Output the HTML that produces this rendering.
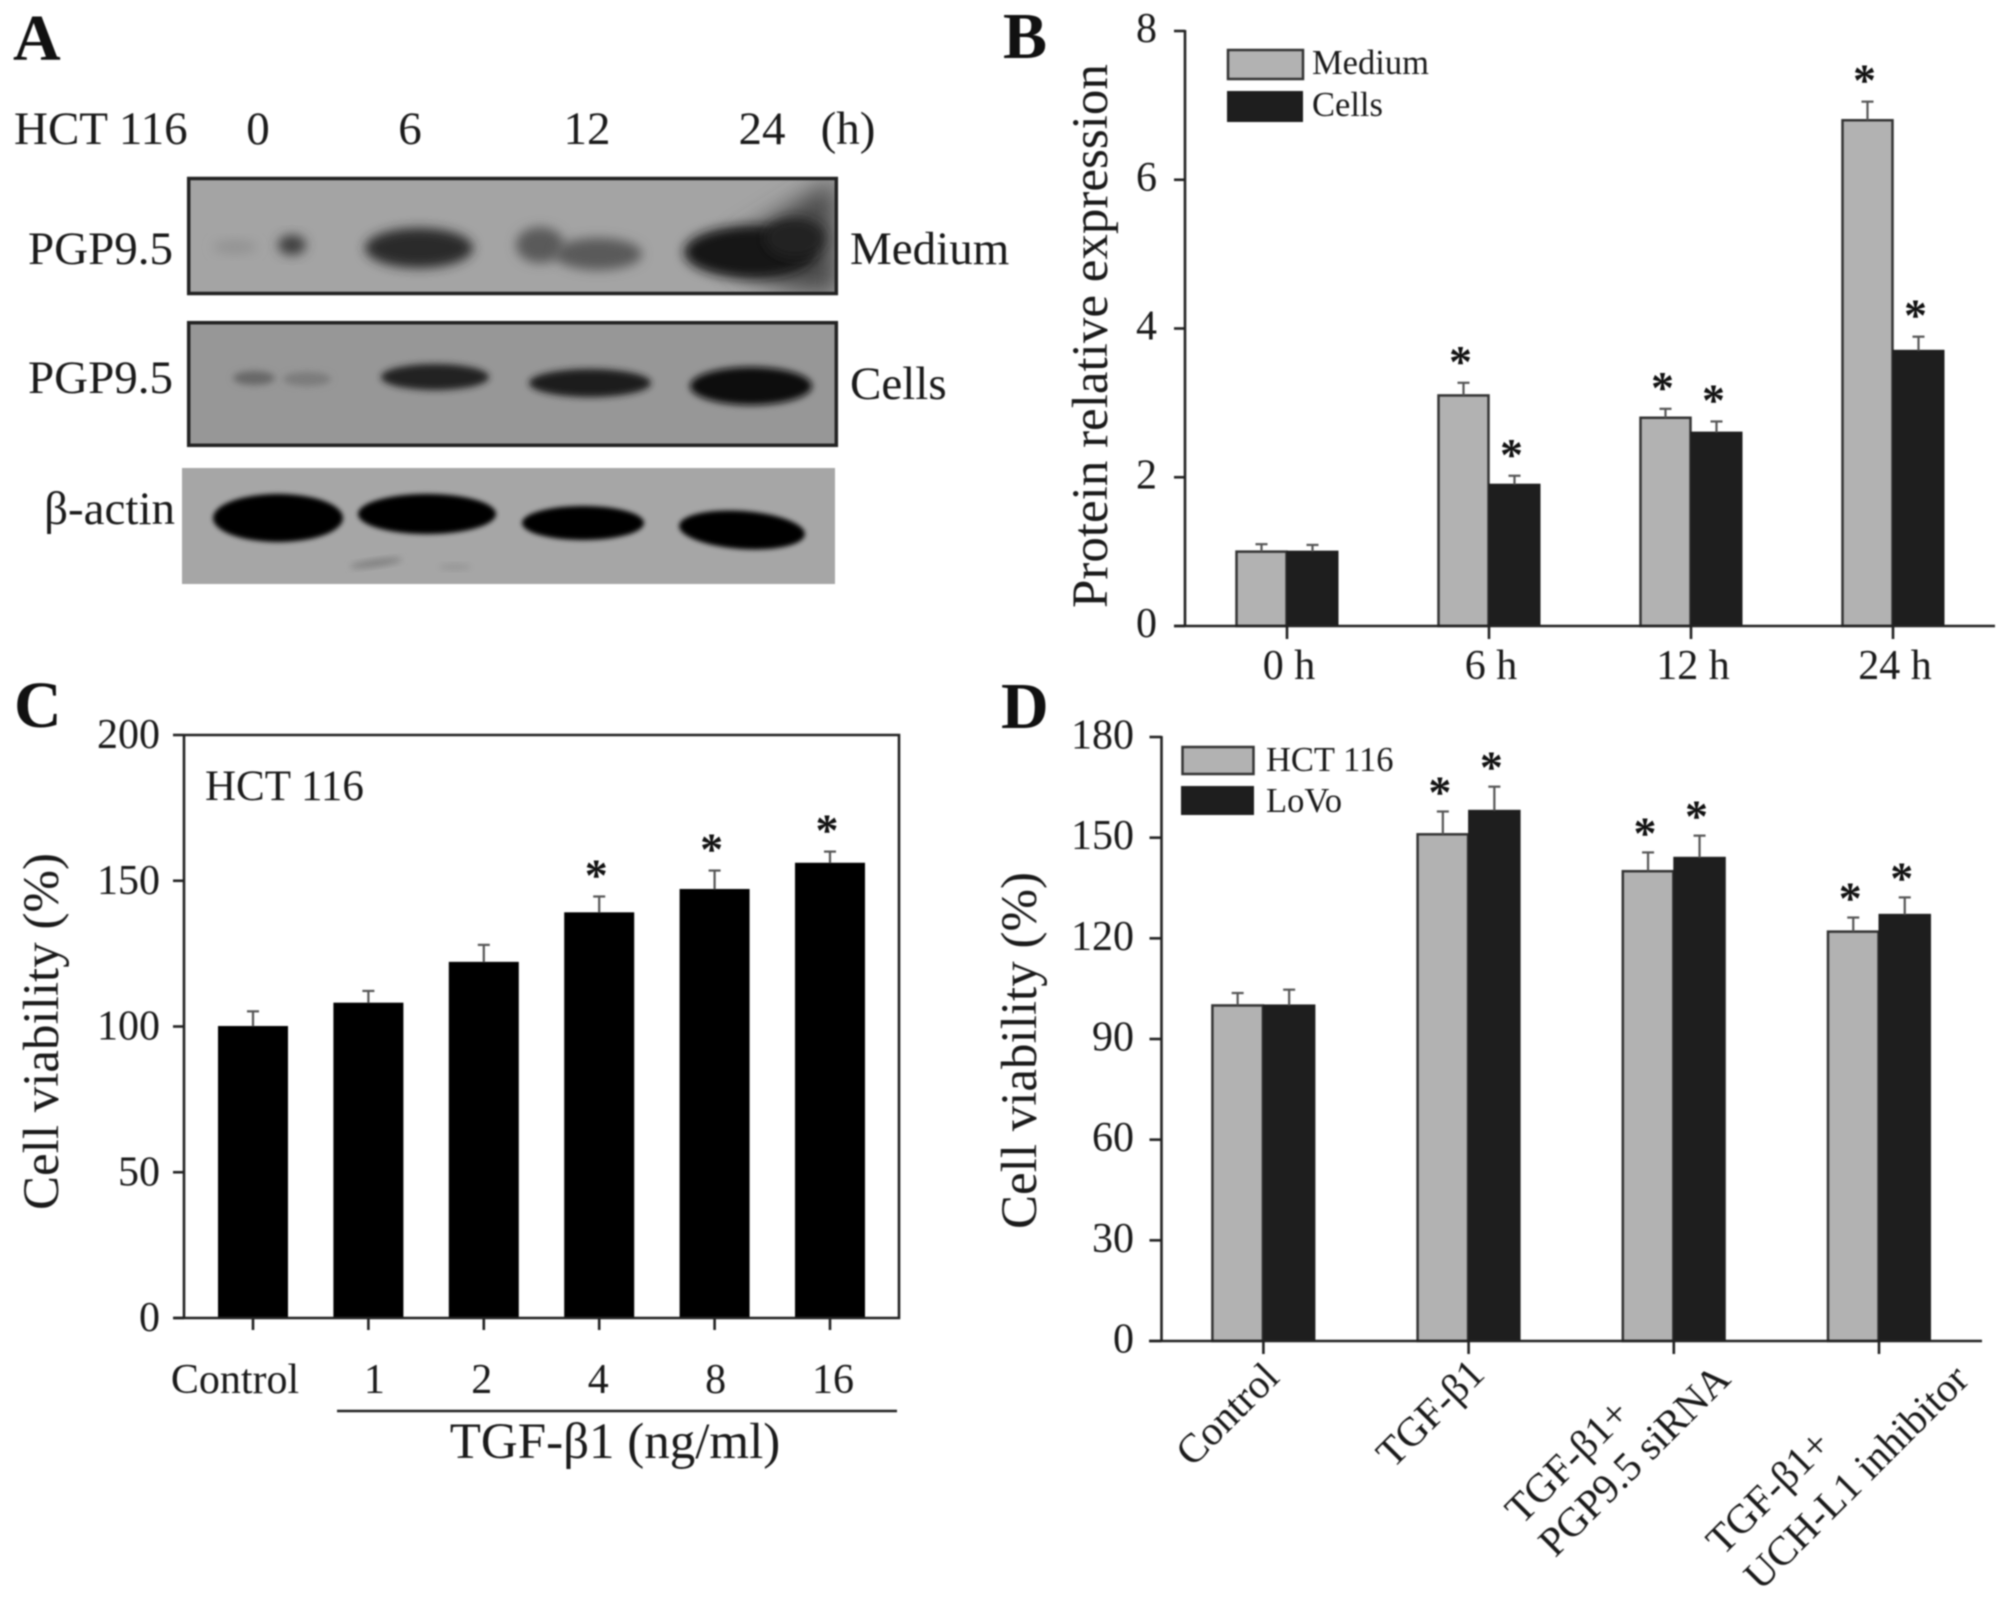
<!DOCTYPE html>
<html lang="en">
<head>
<meta charset="utf-8">
<title>PGP9.5 expression and cell viability figure</title>
<style>
html,body{margin:0;padding:0;background:#fff;}
body{width:2008px;height:1599px;overflow:hidden;}
svg{display:block;filter:blur(0.7px);}
text{font-family:"Liberation Serif","Noto Serif CJK SC",serif;fill:#1a1a1a;}
.big{font-size:47px;}
.tick{font-size:42px;}
.title{font-size:51px;}
.letter{font-size:66px;font-weight:bold;fill:#111;}
.leg{font-size:34.5px;}
.rot{font-size:41px;text-anchor:middle;}
</style>
</head>
<body>
<svg id="fig" xmlns="http://www.w3.org/2000/svg" width="2008" height="1599" viewBox="0 0 2008 1599">
  <defs>
    <filter id="b2" x="-50%" y="-50%" width="200%" height="200%"><feGaussianBlur stdDeviation="2.500"/></filter>
    <filter id="b3" x="-50%" y="-50%" width="200%" height="200%"><feGaussianBlur stdDeviation="3.500"/></filter>
    <filter id="b5" x="-50%" y="-50%" width="200%" height="200%"><feGaussianBlur stdDeviation="5.500"/></filter>
    <filter id="b14" x="-50%" y="-50%" width="200%" height="200%"><feGaussianBlur stdDeviation="12"/></filter>
    <clipPath id="clip1"><rect x="187" y="177" width="651" height="118"/></clipPath>
    <clipPath id="clip2"><rect x="187" y="321" width="651" height="126"/></clipPath>
  </defs>

  <!-- Panel A -->
  <g>
    <text class="letter" x="13" y="60">A</text>
    <text class="big" x="14" y="144">HCT 116</text>
    <text class="big" x="258" y="144" text-anchor="middle">0</text>
    <text class="big" x="410" y="144" text-anchor="middle">6</text>
    <text class="big" x="587" y="144" text-anchor="middle">12</text>
    <text class="big" x="762" y="144" text-anchor="middle">24</text>
    <text class="big" x="848" y="144" text-anchor="middle">(h)</text>
    <text class="big" x="173" y="264" text-anchor="end">PGP9.5</text>
    <text class="big" x="173" y="393" text-anchor="end">PGP9.5</text>
    <text class="big" x="175" y="524" text-anchor="end">β-actin</text>
    <text class="big" x="850" y="264">Medium</text>
    <text class="big" x="850" y="399">Cells</text>

    <g>
      <rect x="187" y="177" width="651" height="118" fill="#a4a4a4"/>
      <g clip-path="url(#clip1)">
        <polygon points="735,240 775,215 815,190 835,178 838,295 790,290 735,270" fill="#4a4a4a" filter="url(#b14)"/>
        <ellipse cx="235" cy="247" rx="22" ry="7" fill="#939393" filter="url(#b5)"/>
        <ellipse cx="292" cy="245" rx="14" ry="10" fill="#3e3e3e" filter="url(#b5)"/>
        <ellipse cx="419" cy="248" rx="54" ry="20" fill="#2a2a2a" filter="url(#b5)"/>
        <ellipse cx="540" cy="245" rx="24" ry="18" fill="#5a5a5a" filter="url(#b5)"/>
        <ellipse cx="598" cy="254" rx="44" ry="16" fill="#5a5a5a" filter="url(#b5)"/>
        <ellipse cx="750" cy="252" rx="66" ry="26" fill="#161616" filter="url(#b5)"/>
        <ellipse cx="795" cy="238" rx="30" ry="20" fill="#242424" filter="url(#b5)"/>
      </g>
      <rect x="188.700" y="178.500" width="647.600" height="115" fill="none" stroke="#222" stroke-width="3.500"/>
    </g>

    <g>
      <rect x="187" y="321" width="651" height="126" fill="#979797"/>
      <g clip-path="url(#clip2)">
        <ellipse cx="254" cy="378" rx="21" ry="7" fill="#676767" filter="url(#b3)"/>
        <ellipse cx="307" cy="379" rx="24" ry="7" fill="#7b7b7b" filter="url(#b3)"/>
        <ellipse cx="435" cy="377" rx="54" ry="13" fill="#222" filter="url(#b3)"/>
        <ellipse cx="590" cy="383" rx="61" ry="14" fill="#1c1c1c" filter="url(#b3)"/>
        <ellipse cx="751" cy="386" rx="61" ry="19" fill="#0e0e0e" filter="url(#b3)"/>
      </g>
      <rect x="188.700" y="322.700" width="647.600" height="122.600" fill="none" stroke="#222" stroke-width="3.500"/>
    </g>

    <g>
      <rect x="182" y="468" width="653" height="116" fill="#a6a6a6"/>
      <ellipse cx="278" cy="518" rx="65" ry="24" fill="#000" filter="url(#b2)"/>
      <ellipse cx="427" cy="514" rx="69" ry="20" fill="#000" filter="url(#b2)"/>
      <ellipse cx="583" cy="523" rx="61" ry="17" fill="#000" filter="url(#b2)"/>
      <ellipse cx="742" cy="530" rx="63" ry="19" fill="#000" filter="url(#b2)" transform="rotate(4 742 530)"/>
      <ellipse cx="376" cy="563" rx="26" ry="3.500" fill="#7e7e7e" filter="url(#b3)" transform="rotate(-8 376 563)"/>
      <ellipse cx="455" cy="567" rx="16" ry="3" fill="#949494" filter="url(#b3)"/>
    </g>
  </g>

  <!-- Panel B -->
  <g id="panelB">
    <text class="letter" x="1003" y="58">B</text>
    <text class="title" transform="translate(1107,608) rotate(-90)">Protein relative expression</text>
    <g>
      <rect x="1228" y="50" width="75" height="29" fill="#b2b2b2" stroke="#333" stroke-width="2.500"/>
      <rect x="1227" y="91" width="76" height="31" fill="#1e1e1e"/>
      <text class="leg" x="1312" y="74">Medium</text>
      <text class="leg" x="1312" y="116">Cells</text>
    </g>
  </g>

  <!-- Panel C -->
  <g id="panelC">
    <text class="letter" x="14" y="727">C</text>
    <text class="title" transform="translate(58,1210) rotate(-90)">Cell viability (%)</text>
    <text class="tick" x="205" y="800" style="font-size:43px">HCT 116</text>
    <line x1="337" y1="1411" x2="897" y2="1411" stroke="#222" stroke-width="2.500"/>
    <text x="615" y="1458" text-anchor="middle" font-size="51">TGF-β1 (ng/ml)</text>
  </g>

  <!-- Panel D -->
  <g id="panelD">
    <text class="letter" x="1001" y="728">D</text>
    <text class="title" transform="translate(1036,1229) rotate(-90)">Cell viability (%)</text>
    <g>
      <rect x="1182.500" y="747" width="71" height="27" fill="#b2b2b2" stroke="#333" stroke-width="2.500"/>
      <rect x="1181" y="786" width="73" height="29" fill="#1e1e1e"/>
      <text class="leg" x="1266" y="771">HCT 116</text>
      <text class="leg" x="1266" y="812">LoVo</text>
    </g>
    <text class="rot" dy=".3em" transform="translate(1228,1415) rotate(-45)">Control</text>
    <text class="rot" dy=".3em" transform="translate(1431,1414) rotate(-45)">TGF-β1</text>
    <text class="rot" dy=".3em" transform="translate(1568,1462) rotate(-45)">TGF-β1+</text>
    <text class="rot" dy=".3em" transform="translate(1635,1461) rotate(-45)">PGP9.5 siRNA</text>
    <text class="rot" dy=".3em" transform="translate(1769,1493) rotate(-45)">TGF-β1+</text>
    <text class="rot" dy=".3em" transform="translate(1857,1478) rotate(-45)">UCH-L1 inhibitor</text>
  </g>
</svg>

<script>
// Panel B data
const bCategories = ['0 h', '6 h', '12 h', '24 h'];
const bMedium = [1.0, 3.1, 2.8, 6.8];
const bCells = [1.0, 1.9, 2.6, 3.7];
const bMediumErr = [0.1, 0.17, 0.12, 0.25];
const bCellsErr = [0.09, 0.12, 0.15, 0.19];
const bMediumStar = [false, true, true, true];
const bCellsStar = [false, true, true, true];
const bTicks = [0, 2, 4, 6, 8];

// Panel C data
const cCategories = ['Control', '1', '2', '4', '8', '16'];
const cViability = [100, 108, 122, 139, 147, 156];
const cViabilityErr = [5.2, 4.2, 6, 5.6, 6.5, 4];
const cStar = [false, false, false, true, true, true];
const cTicks = [0, 50, 100, 150, 200];

// Panel D data
const dCategories = ['Control', 'TGF-β1', 'TGF-β1+ PGP9.5 siRNA', 'TGF-β1+ UCH-L1 inhibitor'];
const dHct = [100, 151, 140, 122];
const dLovo = [100, 158, 144, 127];
const dHctErr = [3.7, 6.8, 5.6, 4.2];
const dLovoErr = [4.7, 7.2, 6.6, 5.2];
const dHctStar = [false, true, true, true];
const dLovoStar = [false, true, true, true];
const dTicks = [0, 30, 60, 90, 120, 150, 180];

const NS = 'http://www.w3.org/2000/svg';
function mk(parent, tag, attrs, txt) {
  const el = document.createElementNS(NS, tag);
  for (const k in attrs) el.setAttribute(k, attrs[k]);
  if (txt !== undefined) el.textContent = txt;
  parent.appendChild(el);
  return el;
}
function linearY(v, maxV, yZero, yTop) { return yZero - (v / maxV) * (yZero - yTop); }

function drawBar(g, x, w, v, err, star, y, o, label) {
  const top = y(v), errTop = y(v + err), cx = x + w / 2;
  const rect = mk(g, 'rect', {x: x + o.inset, y: top, width: w - 2 * o.inset, height: y(0) - top, fill: o.fill, stroke: o.stroke, 'stroke-width': o.sw});
  
  
  const stem = mk(g, 'line', {x1: cx, x2: cx, y1: top, y2: errTop, stroke: '#555', 'stroke-width': 2.2});
  
  
  const cap = mk(g, 'line', {x1: cx - 6, x2: cx + 6, y1: errTop, y2: errTop, stroke: '#555', 'stroke-width': 2.2});
  
  
  if (star) {
    const s = mk(g, 'text', {x: cx - 3, y: errTop - o.starGap, 'text-anchor': 'middle', 'font-size': 46, 'font-weight': 'bold', style: 'fill:#111'}, '*');
    
    
  }
}

function drawYAxis(g, ticks, y, o, label) {
  const axis = mk(g, 'line', {x1: o.x, x2: o.x, y1: y(ticks[ticks.length - 1]) - 1, y2: y(0) + 1, stroke: '#222', 'stroke-width': 2.6});
  
  
  ticks.forEach(function (t) {
    const tk = mk(g, 'line', {x1: o.x - o.tickLen, x2: o.x, y1: y(t), y2: y(t), stroke: '#222', 'stroke-width': 2.6});
    
    
    const tx = mk(g, 'text', {class: 'tick', x: o.labelX, y: y(t) + o.labelDy, 'text-anchor': 'end'}, String(t));
    
    
  });
}

function drawXTicks(g, n, cx, yBase, tickLen, label) {
  for (let i = 0; i < n; i++) {
    const tk = mk(g, 'line', {x1: cx(i), x2: cx(i), y1: yBase, y2: yBase + tickLen, stroke: '#222', 'stroke-width': 2.6});
    
    
  }
}

// ---- Panel B ----
(function () {
  const g = document.getElementById('panelB');
  const y = function (v) { return linearY(v, 8, 626, 31); };
  const cx = function (i) { return 1287 + i * 202; };
  const w = 51;
  bCategories.forEach(function (c, i) {
    drawBar(g, cx(i) - w, w, bMedium[i], bMediumErr[i], bMediumStar[i], y, {fill: '#b2b2b2', stroke: '#333', sw: 2.5, inset: 0.5, starGap: 6}, 'panel-b-medium');
    drawBar(g, cx(i), w, bCells[i], bCellsErr[i], bCellsStar[i], y, {fill: '#1e1e1e', stroke: '#1e1e1e', sw: 2, inset: 0.5, starGap: 6}, 'panel-b-cells');
    const lb = mk(g, 'text', {class: 'tick', x: cx(i) + 2, y: 679, 'text-anchor': 'middle'}, c);
    
    
  });
  drawYAxis(g, bTicks, y, {x: 1185, tickLen: 11, labelX: 1157, labelDy: 11}, 'panel-b');
  const xa = mk(g, 'line', {x1: 1174, x2: 1995, y1: y(0), y2: y(0), stroke: '#222', 'stroke-width': 2.6});
  
  
  drawXTicks(g, bCategories.length, cx, y(0), 13, 'panel-b');
})();

// ---- Panel C ----
(function () {
  const g = document.getElementById('panelC');
  const y = function (v) { return linearY(v, 200, 1318, 735); };
  const cx = function (i) { return 253 + i * 115.4; };
  const w = 70;
  const labelNudge = [-18, 6, -2, -1, 1, 3];
  cCategories.forEach(function (c, i) {
    drawBar(g, cx(i) - w / 2, w, cViability[i], cViabilityErr[i], cStar[i], y, {fill: '#000', stroke: '#000', sw: 1, inset: 0.5, starGap: 6}, 'panel-c');
    const lb = mk(g, 'text', {class: 'tick', x: cx(i) + labelNudge[i], y: 1393, 'text-anchor': 'middle'}, c);
    
    
  });
  drawYAxis(g, cTicks, y, {x: 184, tickLen: 11, labelX: 160, labelDy: 13}, 'panel-c');
  const frame = mk(g, 'path', {d: 'M184 ' + y(200) + 'H899V' + y(0) + 'H174', fill: 'none', stroke: '#222', 'stroke-width': 2.6});
  
  
  drawXTicks(g, cCategories.length, cx, y(0), 12, 'panel-c');
})();

// ---- Panel D ----
(function () {
  const g = document.getElementById('panelD');
  const y = function (v) { return linearY(v, 180, 1341, 737); };
  const cx = function (i) { return 1263.4 + i * 205.2; };
  const w = 51.5;
  dCategories.forEach(function (c, i) {
    drawBar(g, cx(i) - w, w, dHct[i], dHctErr[i], dHctStar[i], y, {fill: '#b2b2b2', stroke: '#333', sw: 2.5, inset: 0.5, starGap: 4}, 'panel-d-hct116');
    drawBar(g, cx(i), w, dLovo[i], dLovoErr[i], dLovoStar[i], y, {fill: '#1e1e1e', stroke: '#1e1e1e', sw: 2, inset: 0.5, starGap: 4}, 'panel-d-lovo');
  });
  drawYAxis(g, dTicks, y, {x: 1161.5, tickLen: 12, labelX: 1134, labelDy: 11.5}, 'panel-d');
  const xa = mk(g, 'line', {x1: 1149, x2: 1982, y1: y(0), y2: y(0), stroke: '#222', 'stroke-width': 2.6});
  
  
  drawXTicks(g, dCategories.length, cx, y(0), 13, 'panel-d');
})();
</script>
</body>
</html>
